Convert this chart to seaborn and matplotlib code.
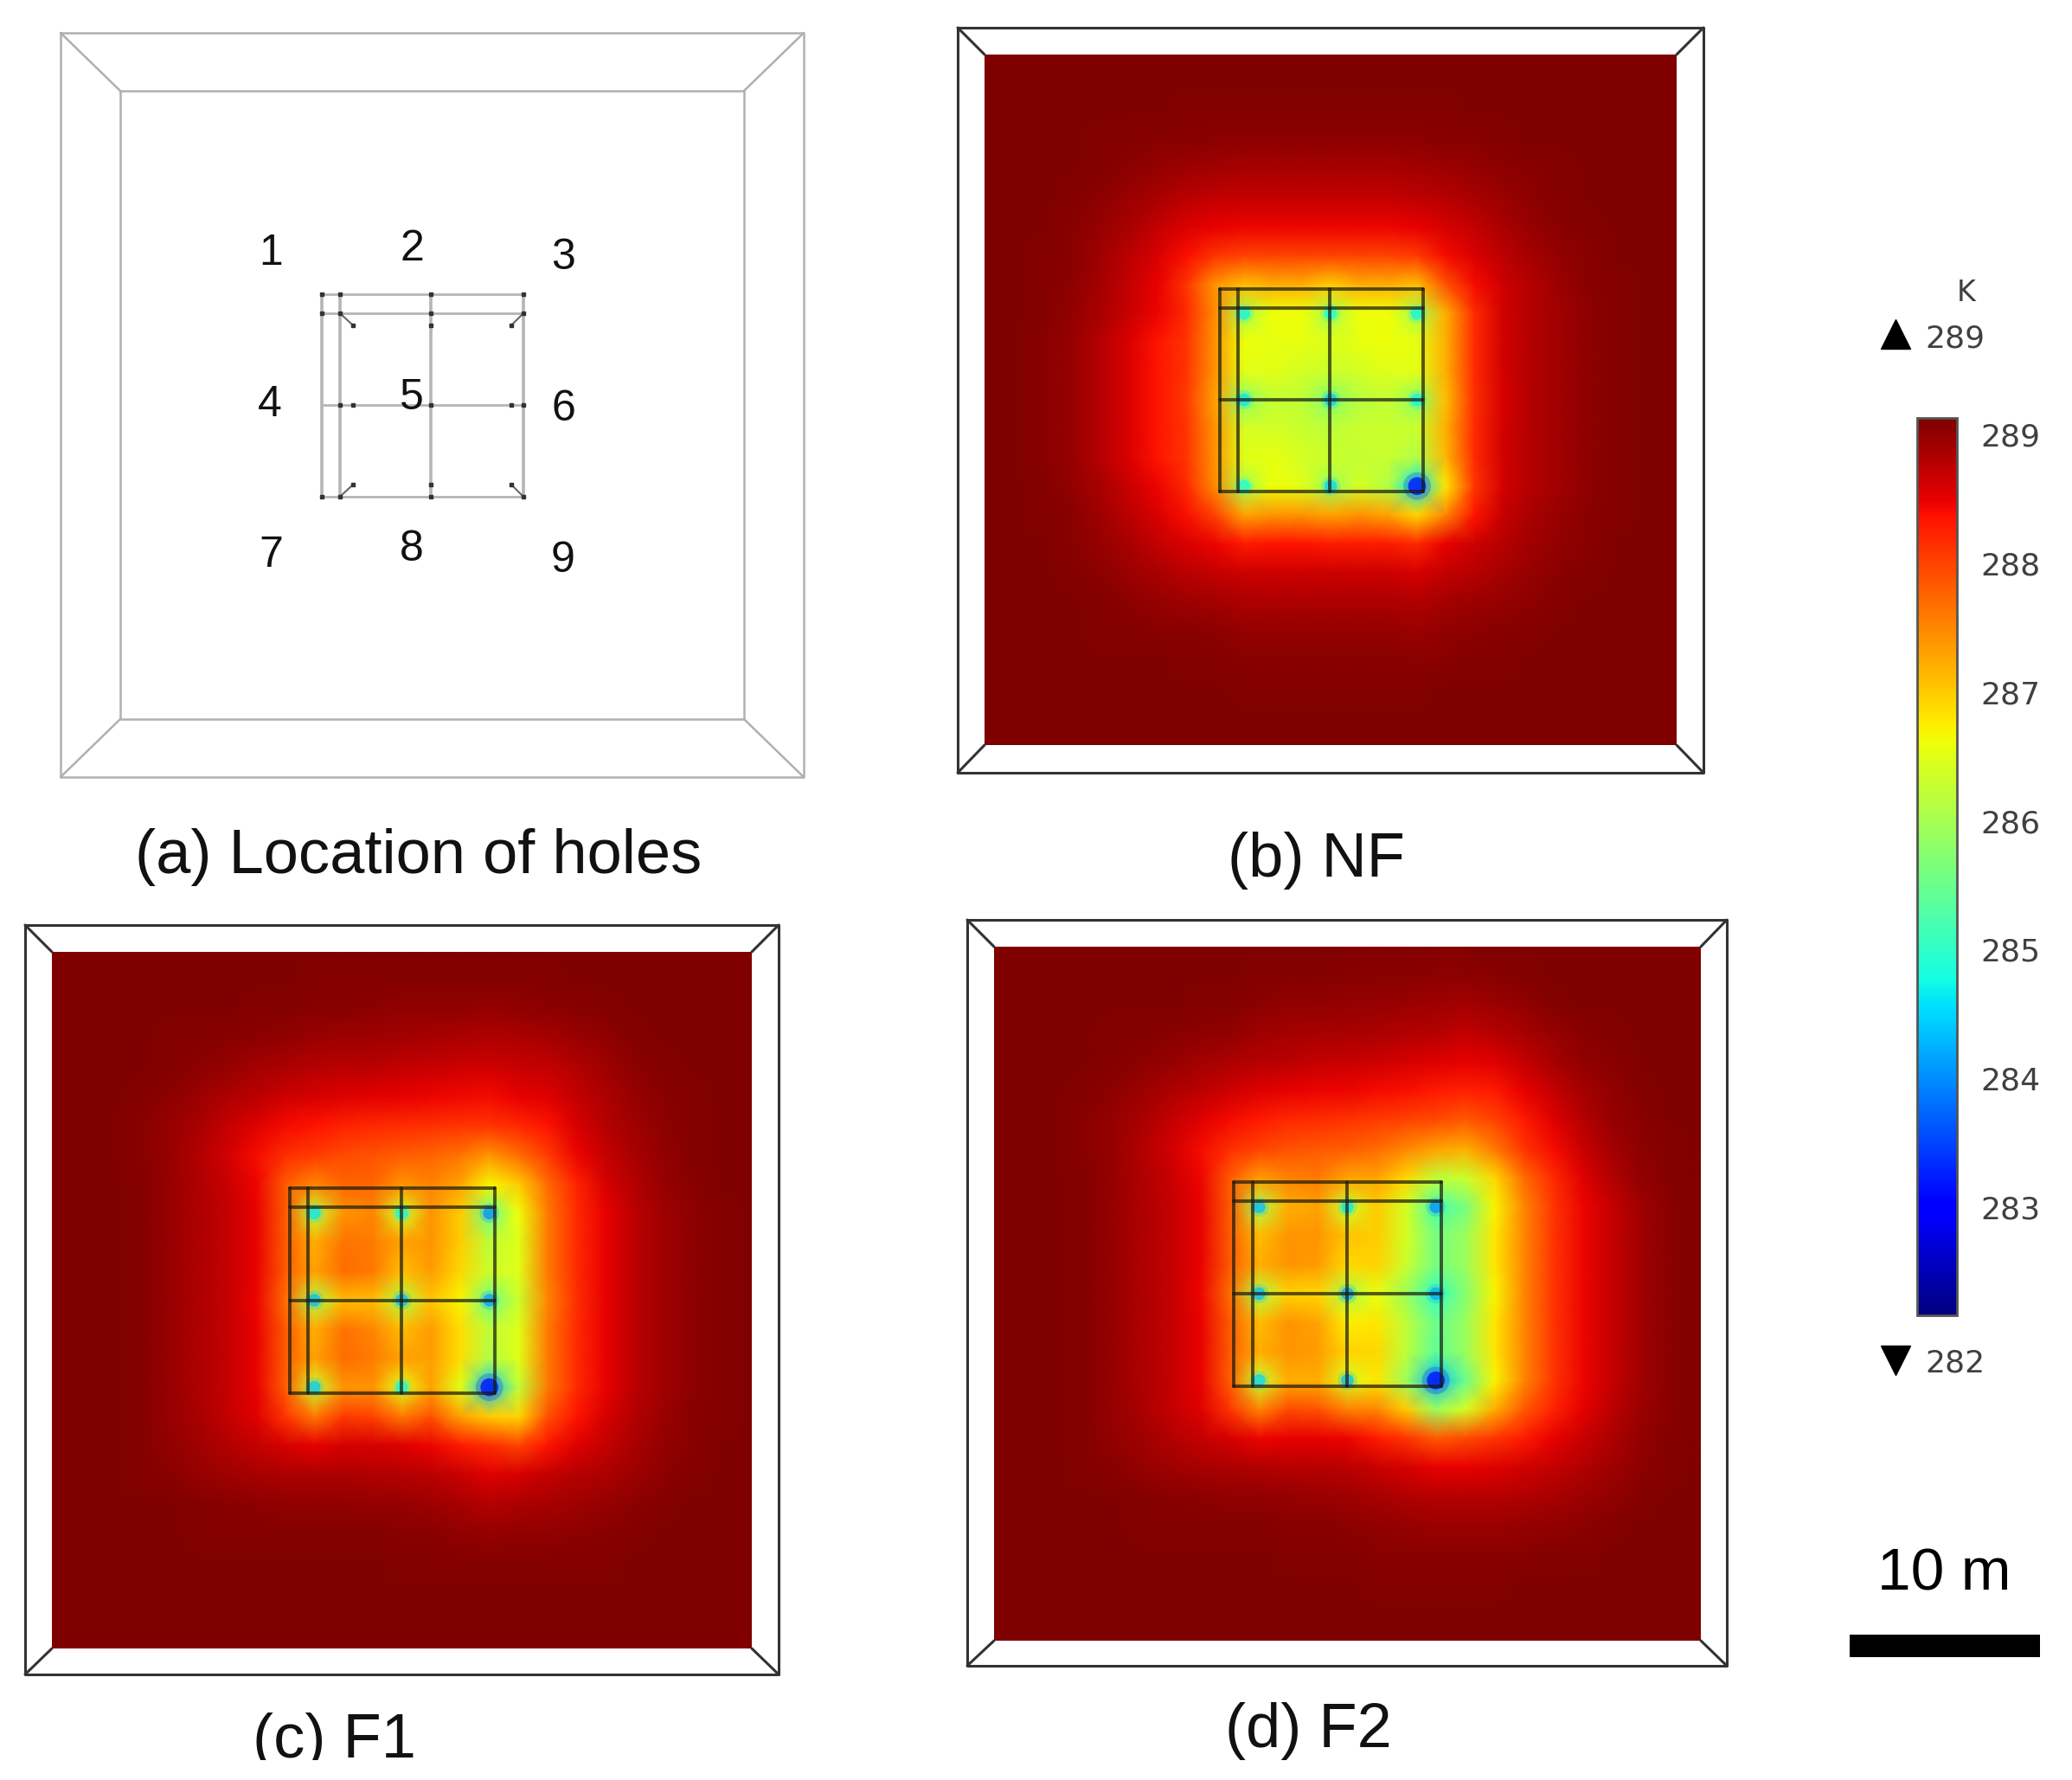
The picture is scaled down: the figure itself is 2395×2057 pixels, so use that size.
import numpy as np
import matplotlib
matplotlib.use('Agg')
import matplotlib.pyplot as plt
import seaborn as sns

sns.set_style('white')
plt.rcParams['font.family'] = ['Liberation Sans', 'DejaVu Sans']

W, H = 2395, 2057

left_nf = [
    [289.13,289.13,289.13,289.13,289.13,289.13,289.13,289.13,289.13],
    [289.13,289.13,289.13,289.13,289.13,289.12,289.12,289.12,289.12],
    [289.13,289.13,289.13,289.13,289.12,289.11,289.11,289.10,289.10],
    [289.13,289.13,289.13,289.12,289.10,289.09,289.07,289.05,289.03],
    [289.13,289.13,289.12,289.11,289.08,289.03,288.98,288.93,288.90],
    [289.13,289.13,289.11,289.09,289.03,288.96,288.87,288.77,288.70],
    [289.13,289.12,289.11,289.07,288.98,288.87,288.70,288.57,288.48],
    [289.13,289.12,289.10,289.05,288.93,288.77,288.57,288.38,288.10],
    [289.13,289.12,289.10,289.03,288.90,288.70,288.48,288.10,287.40],
    [289.13,289.12,289.10,289.02,288.88,288.68,288.45,288.20,287.45],
    [289.13,289.12,289.07,288.97,288.80,288.58,288.35,288.10,287.40],
    [289.13,289.12,289.07,288.97,288.80,288.58,288.35,288.10,287.40],
    [289.13,289.12,289.07,288.97,288.80,288.58,288.35,288.05,287.30],
    [289.13,289.12,289.07,288.97,288.80,288.58,288.35,288.10,287.40],
    [289.13,289.12,289.07,288.97,288.80,288.58,288.35,288.10,287.40],
    [289.13,289.12,289.10,289.02,288.88,288.68,288.45,288.20,287.45],
    [289.13,289.12,289.10,289.05,288.93,288.77,288.57,288.38,288.00],
    [289.13,289.12,289.11,289.07,288.98,288.87,288.70,288.57,288.45],
    [289.13,289.13,289.11,289.09,289.03,288.96,288.87,288.77,288.72],
    [289.13,289.13,289.12,289.11,289.08,289.03,288.98,288.93,288.90],
    [289.13,289.13,289.13,289.12,289.10,289.09,289.07,289.05,289.03],
    [289.13,289.13,289.13,289.13,289.12,289.11,289.11,289.10,289.10],
    [289.13,289.13,289.13,289.13,289.13,289.12,289.12,289.12,289.12],
    [289.13,289.13,289.13,289.13,289.13,289.13,289.13,289.13,289.13],
    [289.13,289.13,289.13,289.13,289.13,289.13,289.13,289.13,289.13],
]
box_nf = [
    [289.13,289.13,289.13,289.13,289.13,289.13,289.13],
    [289.12,289.12,289.12,289.12,289.12,289.12,289.12],
    [289.10,289.10,289.10,289.10,289.10,289.10,289.10],
    [289.03,289.03,289.03,289.03,289.03,289.03,289.04],
    [288.88,288.88,288.88,288.88,288.88,288.88,288.90],
    [288.70,288.70,288.70,288.70,288.70,288.70,288.74],
    [288.45,288.45,288.45,288.45,288.45,288.45,288.50],
    [288.00,288.00,288.00,288.00,288.00,288.00,288.05],
    [287.10,287.20,287.20,287.00,287.20,287.20,287.10],
    [286.00,286.60,286.60,286.00,286.60,286.60,286.00],
    [286.60,286.55,286.55,286.45,286.55,286.60,286.55],
    [286.50,286.50,286.40,286.30,286.40,286.50,286.50],
    [285.80,286.25,286.20,285.70,286.15,286.25,285.80],
    [286.40,286.40,286.30,286.20,286.30,286.30,286.30],
    [286.50,286.55,286.40,286.30,286.25,286.30,286.10],
    [286.00,286.60,286.50,285.90,286.40,286.10,284.60],
    [287.30,287.40,287.40,287.30,287.40,287.30,286.90],
    [288.30,288.35,288.35,288.30,288.30,288.30,288.20],
    [288.65,288.65,288.65,288.65,288.65,288.65,288.60],
    [288.85,288.85,288.85,288.85,288.85,288.85,288.82],
    [288.97,288.97,288.97,288.97,288.97,288.97,288.95],
    [289.05,289.05,289.05,289.05,289.05,289.05,289.04],
    [289.10,289.10,289.10,289.10,289.10,289.10,289.10],
    [289.12,289.12,289.12,289.12,289.12,289.12,289.12],
    [289.13,289.13,289.13,289.13,289.13,289.13,289.13],
]
right_nf = [
    [289.13,289.13,289.13,289.13,289.13,289.13,289.13,289.13,289.13],
    [289.12,289.13,289.13,289.13,289.13,289.13,289.13,289.13,289.13],
    [289.10,289.11,289.12,289.13,289.13,289.13,289.13,289.13,289.13],
    [289.05,289.07,289.09,289.11,289.12,289.13,289.13,289.13,289.13],
    [288.93,288.98,289.03,289.07,289.10,289.12,289.13,289.13,289.13],
    [288.80,288.88,288.96,289.03,289.08,289.11,289.13,289.13,289.13],
    [288.60,288.72,288.87,288.98,289.05,289.10,289.12,289.13,289.13],
    [288.40,288.58,288.75,288.90,289.00,289.07,289.11,289.13,289.13],
    [287.90,288.40,288.65,288.83,288.95,289.05,289.10,289.13,289.13],
    [287.20,288.20,288.62,288.83,288.93,289.03,289.10,289.12,289.13],
    [287.20,288.20,288.62,288.83,288.93,289.03,289.10,289.12,289.13],
    [287.20,288.20,288.62,288.83,288.93,289.03,289.10,289.12,289.13],
    [287.10,288.15,288.60,288.83,288.93,289.03,289.10,289.12,289.13],
    [287.20,288.20,288.62,288.83,288.93,289.03,289.10,289.12,289.13],
    [287.15,288.20,288.62,288.83,288.93,289.03,289.10,289.12,289.13],
    [286.80,288.10,288.62,288.83,288.93,289.03,289.10,289.12,289.13],
    [287.50,288.35,288.72,288.88,288.97,289.05,289.10,289.12,289.13],
    [288.50,288.65,288.80,288.92,289.00,289.07,289.11,289.13,289.13],
    [288.72,288.80,288.90,288.98,289.05,289.09,289.12,289.13,289.13],
    [288.90,288.94,288.99,289.04,289.08,289.11,289.13,289.13,289.13],
    [289.00,289.03,289.05,289.08,289.11,289.12,289.13,289.13,289.13],
    [289.07,289.08,289.10,289.11,289.12,289.13,289.13,289.13,289.13],
    [289.11,289.11,289.12,289.13,289.13,289.13,289.13,289.13,289.13],
    [289.13,289.13,289.13,289.13,289.13,289.13,289.13,289.13,289.13],
    [289.13,289.13,289.13,289.13,289.13,289.13,289.13,289.13,289.13],
]

# F1 e F2 tem o lado esquerdo praticamente igual
left_flow = [
    [289.13,289.13,289.13,289.13,289.13,289.13,289.13,289.13,289.13],
    [289.13,289.13,289.13,289.13,289.13,289.12,289.12,289.12,289.12],
    [289.13,289.13,289.13,289.13,289.12,289.11,289.11,289.10,289.08],
    [289.13,289.13,289.13,289.12,289.10,289.09,289.07,289.04,289.00],
    [289.13,289.13,289.12,289.11,289.08,289.03,288.97,288.91,288.85],
    [289.13,289.13,289.11,289.09,289.03,288.95,288.85,288.75,288.66],
    [289.13,289.12,289.11,289.07,288.98,288.87,288.70,288.55,288.42],
    [289.13,289.12,289.11,289.07,288.97,288.82,288.62,288.40,288.15],
    [289.13,289.13,289.12,289.08,288.97,288.85,288.68,288.45,287.85],
    [289.13,289.13,289.12,289.08,288.97,288.85,288.70,288.50,287.85],
    [289.13,289.13,289.12,289.08,288.97,288.85,288.70,288.50,287.85],
    [289.13,289.13,289.12,289.08,288.97,288.85,288.70,288.50,287.85],
    [289.13,289.13,289.12,289.08,288.97,288.85,288.70,288.45,287.70],
    [289.13,289.13,289.12,289.08,288.97,288.85,288.70,288.50,287.85],
    [289.13,289.13,289.12,289.08,288.97,288.85,288.70,288.50,287.85],
    [289.13,289.13,289.12,289.08,288.97,288.85,288.70,288.48,287.80],
    [289.13,289.13,289.12,289.08,288.98,288.87,288.72,288.55,288.10],
    [289.13,289.13,289.12,289.10,289.00,288.92,288.83,288.72,288.60],
    [289.13,289.13,289.13,289.10,289.05,288.98,288.93,288.88,288.85],
    [289.13,289.13,289.13,289.13,289.12,289.08,289.05,289.03,289.00],
    [289.13,289.13,289.13,289.13,289.12,289.10,289.08,289.08,289.08],
    [289.13,289.13,289.13,289.13,289.13,289.13,289.12,289.12,289.12],
    [289.13,289.13,289.13,289.13,289.13,289.13,289.13,289.13,289.13],
    [289.13,289.13,289.13,289.13,289.13,289.13,289.13,289.13,289.13],
    [289.13,289.13,289.13,289.13,289.13,289.13,289.13,289.13,289.13],
]
box_f1 = [
    [289.12,289.12,289.12,289.12,289.12,289.12,289.12],
    [289.10,289.10,289.10,289.08,289.08,289.08,289.08],
    [289.05,289.05,289.03,289.02,289.00,289.00,288.97],
    [288.95,288.93,288.92,288.90,288.88,288.85,288.82],
    [288.80,288.77,288.75,288.72,288.68,288.65,288.62],
    [288.60,288.55,288.52,288.50,288.47,288.44,288.40],
    [288.35,288.25,288.20,288.15,288.13,288.12,288.10],
    [288.05,287.95,287.90,287.80,287.75,287.65,287.40],
    [287.50,287.75,287.75,287.40,287.55,287.30,286.70],
    [286.20,287.40,287.50,286.40,287.40,287.00,285.50],
    [287.20,287.65,287.60,287.30,287.40,287.00,286.20],
    [287.30,287.70,287.60,287.10,287.35,286.90,286.30],
    [286.10,287.10,287.10,286.10,287.05,286.70,285.50],
    [287.20,287.65,287.50,287.10,287.35,286.85,286.20],
    [287.30,287.70,287.60,287.30,287.35,286.85,286.10],
    [286.30,287.40,287.40,286.50,287.30,286.50,284.40],
    [287.60,288.05,288.00,287.60,287.90,287.30,287.00],
    [288.50,288.60,288.60,288.55,288.45,288.30,288.15],
    [288.85,288.85,288.83,288.80,288.75,288.68,288.55],
    [289.00,289.00,288.98,288.97,288.93,288.88,288.80],
    [289.10,289.08,289.08,289.07,289.05,289.00,288.98],
    [289.12,289.12,289.12,289.10,289.10,289.08,289.08],
    [289.13,289.13,289.13,289.13,289.12,289.12,289.12],
    [289.13,289.13,289.13,289.13,289.13,289.13,289.13],
    [289.13,289.13,289.13,289.13,289.13,289.13,289.13],
]
right_f1 = [
    [289.12,289.13,289.13,289.13,289.13,289.13,289.13,289.13,289.13],
    [289.08,289.10,289.12,289.13,289.13,289.13,289.13,289.13,289.13],
    [289.00,289.03,289.07,289.10,289.12,289.13,289.13,289.13,289.13],
    [288.85,288.88,288.95,289.02,289.08,289.11,289.13,289.13,289.13],
    [288.68,288.72,288.83,288.93,289.03,289.08,289.12,289.13,289.13],
    [288.50,288.55,288.70,288.85,288.97,289.05,289.10,289.13,289.13],
    [288.20,288.35,288.60,288.78,288.92,289.03,289.10,289.12,289.13],
    [287.70,288.05,288.45,288.70,288.88,289.00,289.08,289.12,289.13],
    [287.00,287.70,288.25,288.60,288.83,288.98,289.07,289.11,289.13],
    [286.60,287.60,288.20,288.50,288.75,288.92,289.03,289.10,289.13],
    [286.50,287.60,288.20,288.50,288.75,288.92,289.03,289.10,289.13],
    [286.50,287.60,288.20,288.50,288.75,288.92,289.03,289.10,289.13],
    [286.30,287.50,288.15,288.50,288.75,288.92,289.03,289.10,289.13],
    [286.50,287.60,288.20,288.50,288.75,288.92,289.03,289.10,289.13],
    [286.50,287.60,288.20,288.50,288.75,288.92,289.03,289.10,289.13],
    [286.20,287.60,288.20,288.50,288.75,288.92,289.03,289.10,289.13],
    [286.90,287.90,288.35,288.60,288.82,288.95,289.05,289.10,289.13],
    [288.00,288.35,288.55,288.72,288.88,289.00,289.07,289.12,289.13],
    [288.60,288.70,288.78,288.85,288.95,289.03,289.10,289.12,289.13],
    [288.85,288.88,288.92,288.97,289.03,289.08,289.12,289.13,289.13],
    [289.00,289.00,289.03,289.05,289.08,289.11,289.13,289.13,289.13],
    [289.08,289.08,289.10,289.10,289.12,289.13,289.13,289.13,289.13],
    [289.12,289.12,289.12,289.13,289.13,289.13,289.13,289.13,289.13],
    [289.13,289.13,289.13,289.13,289.13,289.13,289.13,289.13,289.13],
    [289.13,289.13,289.13,289.13,289.13,289.13,289.13,289.13,289.13],
]
box_f2 = [
    [289.12,289.12,289.12,289.10,289.10,289.10,289.08],
    [289.10,289.08,289.08,289.07,289.05,289.05,289.03],
    [289.03,289.02,289.00,288.98,288.97,288.95,288.92],
    [288.93,288.90,288.88,288.87,288.85,288.82,288.78],
    [288.78,288.75,288.70,288.68,288.65,288.60,288.55],
    [288.55,288.50,288.47,288.45,288.42,288.38,288.30],
    [288.30,288.20,288.15,288.10,288.05,288.00,287.95],
    [288.00,287.90,287.85,287.80,287.70,287.50,287.30],
    [287.35,287.55,287.60,287.30,287.30,286.90,286.20],
    [286.10,287.20,287.30,286.30,287.00,286.40,285.20],
    [287.10,287.40,287.40,287.05,287.00,286.40,285.60],
    [287.20,287.40,287.35,286.90,286.95,286.30,285.60],
    [286.10,286.95,286.90,286.00,286.55,285.90,285.00],
    [287.10,287.40,287.30,286.75,286.80,286.20,285.50],
    [287.20,287.40,287.35,286.95,286.90,286.20,285.40],
    [286.30,287.20,287.20,286.40,286.80,285.90,284.30],
    [287.50,287.95,287.90,287.55,287.50,287.00,285.90],
    [288.45,288.50,288.50,288.45,288.30,288.10,287.85],
    [288.82,288.80,288.78,288.75,288.68,288.60,288.50],
    [289.00,288.98,288.95,288.93,288.88,288.83,288.78],
    [289.08,289.07,289.05,289.03,289.00,288.97,288.95],
    [289.12,289.10,289.10,289.08,289.07,289.05,289.05],
    [289.13,289.12,289.12,289.12,289.10,289.10,289.10],
    [289.13,289.13,289.13,289.13,289.13,289.12,289.12],
    [289.13,289.13,289.13,289.13,289.13,289.13,289.13],
]
right_f2 = [
    [289.10,289.12,289.13,289.13,289.13,289.13,289.13,289.13,289.13],
    [289.03,289.07,289.10,289.12,289.13,289.13,289.13,289.13,289.13],
    [288.90,288.95,289.02,289.08,289.11,289.13,289.13,289.13,289.13],
    [288.72,288.78,288.88,288.98,289.05,289.10,289.13,289.13,289.13],
    [288.50,288.55,288.70,288.87,289.00,289.07,289.12,289.13,289.13],
    [288.25,288.30,288.50,288.72,288.90,289.02,289.10,289.12,289.13],
    [287.85,288.00,288.30,288.55,288.80,288.98,289.07,289.12,289.13],
    [287.20,287.60,288.10,288.40,288.68,288.90,289.03,289.10,289.13],
    [286.30,286.90,287.70,288.20,288.55,288.82,289.00,289.08,289.13],
    [285.60,286.70,287.50,288.10,288.45,288.72,288.92,289.05,289.12],
    [285.90,286.80,287.50,288.10,288.45,288.72,288.92,289.05,289.12],
    [285.90,286.80,287.50,288.10,288.45,288.72,288.92,289.05,289.12],
    [285.70,286.70,287.50,288.10,288.45,288.72,288.92,289.05,289.12],
    [285.90,286.80,287.50,288.10,288.45,288.72,288.92,289.05,289.12],
    [285.90,286.80,287.50,288.10,288.45,288.72,288.92,289.05,289.12],
    [285.50,286.70,287.50,288.10,288.45,288.72,288.92,289.05,289.12],
    [286.40,287.20,287.85,288.25,288.52,288.77,288.95,289.07,289.12],
    [287.95,288.10,288.30,288.50,288.68,288.85,289.00,289.08,289.12],
    [288.50,288.55,288.62,288.72,288.83,288.93,289.03,289.10,289.13],
    [288.78,288.80,288.83,288.88,288.95,289.02,289.08,289.12,289.13],
    [288.95,288.95,288.97,289.00,289.03,289.08,289.11,289.13,289.13],
    [289.05,289.05,289.07,289.08,289.10,289.12,289.13,289.13,289.13],
    [289.10,289.10,289.11,289.12,289.13,289.13,289.13,289.13,289.13],
    [289.12,289.12,289.13,289.13,289.13,289.13,289.13,289.13,289.13],
    [289.13,289.13,289.13,289.13,289.13,289.13,289.13,289.13,289.13],
]

# nucleos frios dos furos
hole_x = [9.0, 12.0, 15.0, 9.0, 12.0, 15.0, 9.0, 12.0, 15.0]
hole_y = [9.0, 9.0, 9.0, 12.0, 12.0, 12.0, 15.0, 15.0, 15.0]
hole_t_nf = [284.7, 284.8, 284.7, 284.6, 284.4, 284.7, 284.8, 284.5, 283.0]
hole_t_f1 = [284.6, 284.7, 284.0, 284.3, 284.3, 284.1, 284.4, 284.7, 282.9]
hole_t_f2 = [284.3, 284.6, 284.0, 284.3, 284.2, 284.2, 284.5, 284.3, 282.9]

cbar_ticks = [283, 284, 285, 286, 287, 288, 289]
t_min, t_max = 282.16, 289.13

grid_x = [8.15, 8.78, 11.98, 15.2]
grid_y = [8.15, 8.8, 12.0, 15.2]

hole_numbers = ['1', '2', '3', '4', '5', '6', '7', '8', '9']
hole_label_x = [313, 476, 651, 312, 476, 651, 313, 476, 651]
hole_label_y = [293, 288, 298, 468, 460, 473, 642, 635, 648]


def px_axes(fig, x0, y0, x1, y1):
    return fig.add_axes([x0 / W, 1 - y1 / H, (x1 - x0) / W, (y1 - y0) / H])


def draw_frame(ax, outer, inner, color, lw, box=False):
    ox0, oy0, ox1, oy1 = outer
    ix0, iy0, ix1, iy1 = inner
    ax.plot([ox0, ox1, ox1, ox0, ox0], [oy0, oy0, oy1, oy1, oy0], color=color, lw=lw)
    if box:
        ax.plot([ix0, ix1, ix1, ix0, ix0], [iy0, iy0, iy1, iy1, iy0], color=color, lw=lw)
    for a, b in [((ox0, oy0), (ix0, iy0)), ((ox1, oy0), (ix1, iy0)),
                 ((ox1, oy1), (ix1, iy1)), ((ox0, oy1), (ix0, iy1))]:
        ax.plot([a[0], b[0]], [a[1], b[1]], color=color, lw=lw)


fig = plt.figure(figsize=(W / 100, H / 100), dpi=100, facecolor='white')

panels = [
    (np.hstack([left_nf, box_nf, right_nf]), hole_t_nf, (1107, 32, 1969, 893), (1138, 63, 1938, 861)),
    (np.hstack([left_flow, box_f1, right_f1]), hole_t_f1, (29, 1069, 900, 1935), (60, 1100, 869, 1905)),
    (np.hstack([left_flow, box_f2, right_f2]), hole_t_f2, (1118, 1063, 1996, 1925), (1149, 1094, 1966, 1896)),
]

cax = px_axes(fig, 2216, 483, 2262, 1520)
cb = None
for i, (field, hole_t, outer, inner) in enumerate(panels):
    ax = px_axes(fig, *inner)
    sns.heatmap(field, ax=ax, cmap='jet', vmin=t_min, vmax=t_max,
                xticklabels=False, yticklabels=False, shading='gouraud',
                cbar=i == 0, cbar_ax=cax if i == 0 else None,
                cbar_kws={'ticks': cbar_ticks})
    if i == 0:
        cb = ax.collections[0].colorbar
    ax.set_xlim(0, 24)
    ax.set_ylim(24, 0)
    sizes = [110] * 8 + [220]
    ax.scatter(hole_x, hole_y, c=hole_t, cmap='jet', vmin=t_min, vmax=t_max,
               s=[v * 2.4 for v in sizes], alpha=0.22, linewidths=0)
    ax.scatter(hole_x, hole_y, c=hole_t, cmap='jet', vmin=t_min, vmax=t_max,
               s=sizes, alpha=0.7, linewidths=0)
    for gx in grid_x:
        ax.plot([gx, gx], [grid_y[0], grid_y[-1]], color='#1a1a10', lw=2.8, alpha=0.72)
    for gy in grid_y:
        ax.plot([grid_x[0], grid_x[-1]], [gy, gy], color='#1a1a10', lw=2.8, alpha=0.72)

# barra de cores
cax.tick_params(axis='y', which='both', direction='in', length=8, width=1.5, color='#222222',
                left=True, right=True, labelsize=26, labelcolor='#404040', pad=20)
for lab in cax.get_yticklabels():
    lab.set_fontfamily('DejaVu Sans')
cb.outline.set_linewidth(2)
cb.outline.set_edgecolor('#555555')

# camada de desenho em pixels
page = fig.add_axes([0, 0, 1, 1], zorder=5)
page.set_xlim(0, W)
page.set_ylim(H, 0)
page.axis('off')
page.patch.set_alpha(0)

for _, _, outer, inner in panels:
    draw_frame(page, outer, inner, '#333333', 2.2)
draw_frame(page, (70, 38, 929, 898), (139, 105, 860, 831), '#b0b0b0', 1.8, box=True)

# painel (a): malha de furos
for x in [372, 393, 498, 605]:
    page.plot([x, x], [340, 574], color='#b5b5b5', lw=2.6)
for y in [340, 362, 468, 574]:
    page.plot([372, 605], [y, y], color='#b5b5b5', lw=2.0)
for (x0, y0, x1, y1) in [(393, 362, 408, 376), (605, 362, 591, 376),
                         (393, 574, 408, 560), (605, 574, 591, 560)]:
    page.plot([x0, x1], [y0, y1], color='#666666', lw=1.5)
dots_x = [372, 393, 498, 605, 393, 498, 605, 408, 498, 591, 393, 408, 498, 591, 605,
          408, 498, 591, 393, 498, 605, 372, 372]
dots_y = [340, 340, 340, 340, 362, 362, 362, 376, 376, 376, 468, 468, 468, 468, 468,
          560, 560, 560, 574, 574, 574, 362, 574]
page.plot(dots_x, dots_y, ls='none', marker='s', ms=3.5, color='#333333')

for s, x, y in zip(hole_numbers, hole_label_x, hole_label_y):
    page.text(x, y, s, fontsize=36, ha='center', va='center', color='#111111')

captions = [('(a) Location of holes', 484, 991), ('(b) NF', 1521, 995),
            ('(c) F1', 386, 2012), ('(d) F2', 1512, 2001)]
for s, x, y in captions:
    page.text(x, y, s, fontsize=52, ha='center', va='center', color='#111111')

# legenda da barra
page.text(2273, 338, 'K', fontsize=24, ha='center', va='center', color='#404040',
          family='DejaVu Sans')
page.plot([2191], [386], marker='^', ms=25, color='black', ls='none')
page.text(2260, 392, '289', fontsize=26, ha='center', va='center', color='#404040',
          family='DejaVu Sans')
page.plot([2191], [1572], marker='v', ms=25, color='black', ls='none')
page.text(2260, 1575, '282', fontsize=26, ha='center', va='center', color='#404040',
          family='DejaVu Sans')

# escala
page.text(2247, 1820, '10 m', fontsize=50, ha='center', va='center', color='black')
page.fill_between([2138, 2358], 1889, 1915, color='black', lw=0)

# a figura original esta cortada logo abaixo da legenda (c)
page.fill_between([0, W], 2034, H, color='white', lw=0, zorder=10)
page.set_xlim(0, W)
page.set_ylim(H, 0)

fig.savefig('out.png', dpi=100)
